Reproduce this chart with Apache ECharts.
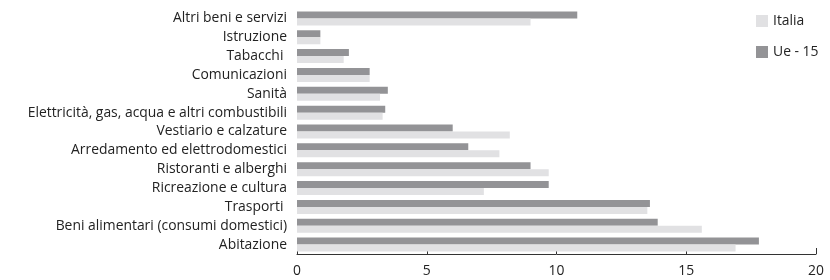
<!DOCTYPE html>
<html>
<head>
<meta charset="utf-8">
<script src="https://cdn.jsdelivr.net/npm/echarts@6/dist/echarts.min.js"></script>
<style>
  html, body { margin: 0; padding: 0; background: #fff; }
  #chart { width: 830px; height: 280px; }
</style>
</head>
<body>
<div id="chart"></div>
<script>
// categories, bottom to top (category axis starts at the bottom)
const categories = [
  'Abitazione',
  'Beni alimentari (consumi domestici)',
  'Trasporti ',
  'Ricreazione e cultura',
  'Ristoranti e alberghi',
  'Arredamento ed elettrodomestici',
  'Vestiario e calzature',
  'Elettricità, gas, acqua e altri combustibili',
  'Sanità',
  'Comunicazioni',
  'Tabacchi ',
  'Istruzione',
  'Altri beni e servizi'
];

const italia = [16.9, 15.6, 13.5, 7.2, 9.7, 7.8, 8.2, 3.3, 3.2, 2.8, 1.8, 0.9, 9.0];
const ue15   = [17.8, 13.9, 13.6, 9.7, 9.0, 6.6, 6.0, 3.4, 3.5, 2.8, 2.0, 0.9, 10.8];

const xTicks = ['0', '5', '10', '15', '20'];

const FONT = '"Open Sans", sans-serif';
const FS = 13.9;

const chart = echarts.init(document.getElementById('chart'));

chart.setOption({
  animation: false,
  textStyle: { fontFamily: FONT },
  legend: {
    orient: 'vertical',
    left: 751,
    top: 9,
    itemWidth: 12,
    itemHeight: 12,
    itemGap: 17,
    icon: 'rect',
    textStyle: { fontFamily: FONT, fontSize: FS, color: '#222' },
    data: ['Italia', 'Ue - 15']
  },
  grid: {
    left: 297,
    right: 14,
    top: 9,
    bottom: 26
  },
  xAxis: {
    type: 'value',
    min: 0,
    max: 20,
    interval: 5,
    splitLine: { show: false },
    axisLine: { show: true, lineStyle: { color: '#333', width: 1 } },
    axisTick: { show: true, inside: true, length: 6, lineStyle: { color: '#333' } },
    axisLabel: {
      fontFamily: FONT,
      fontSize: FS,
      color: '#222',
      margin: 10,
      formatter: (v) => xTicks[Math.round(v / 5)]
    }
  },
  yAxis: {
    type: 'category',
    data: categories,
    axisLine: { show: false },
    axisTick: { show: false },
    axisLabel: {
      fontFamily: FONT,
      fontSize: FS,
      color: '#222',
      margin: 10,
      interval: 0
    }
  },
  // first series is drawn on top within each category
  series: [
    {
      name: 'Ue - 15',
      type: 'bar',
      data: ue15,
      barWidth: 7,
      barGap: '0%',
      itemStyle: { color: '#939396' }
    },
    {
      name: 'Italia',
      type: 'bar',
      data: italia,
      barWidth: 7,
      barGap: '0%',
      itemStyle: { color: '#e1e1e3' }
    }
  ]
});
</script>
</body>
</html>
